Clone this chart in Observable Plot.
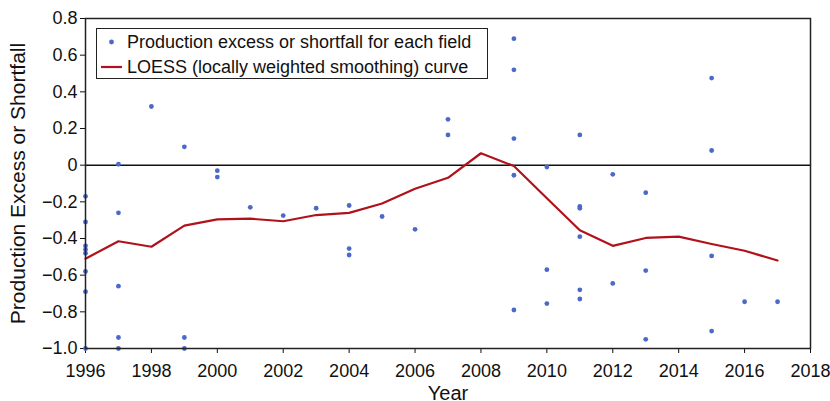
<!DOCTYPE html>
<html>
<head>
<meta charset="utf-8">
<script src="https://cdn.jsdelivr.net/npm/d3@7"></script>
<script src="https://cdn.jsdelivr.net/npm/@observablehq/plot@0.6"></script>
<style>
  html, body { margin: 0; padding: 0; background: #fff; }
  #chart { position: relative; width: 830px; height: 401px; overflow: hidden;
           font-family: "Liberation Sans", Arial, Helvetica, sans-serif; }
  #legend { position: absolute; left: 96px; top: 28px; width: 392px; height: 51px;
            border: 1.5px solid #222; background: #fff; box-sizing: border-box;
            font-size: 18px; color: #111; }
  #legend .row { position: absolute; left: 0; height: 24px; display: flex; align-items: center; white-space: nowrap; }
  #legend svg { display: block; }
</style>
</head>
<body>
<div id="chart"></div>
<script>
// Production excess or shortfall per field, by year
const fieldYears = [
  1996, 1996, 1996, 1996, 1996, 1996, 1996, 1996,
  1997, 1997, 1997, 1997, 1997,
  1998,
  1999, 1999, 1999,
  2000, 2000,
  2001,
  2002,
  2003,
  2004, 2004, 2004,
  2005,
  2006,
  2007, 2007,
  2009, 2009, 2009, 2009, 2009,
  2010, 2010, 2010,
  2011, 2011, 2011, 2011, 2011, 2011,
  2012, 2012,
  2013, 2013, 2013,
  2015, 2015, 2015, 2015,
  2016,
  2017
];
const fieldValues = [
  -0.17, -0.31, -0.44, -0.46, -0.48, -0.58, -0.69, -1.0,
  0.005, -0.26, -0.66, -0.94, -1.0,
  0.32,
  0.10, -0.94, -1.0,
  -0.03, -0.065,
  -0.23,
  -0.275,
  -0.235,
  -0.22, -0.455, -0.49,
  -0.28,
  -0.35,
  0.25, 0.165,
  0.69, 0.52, 0.145, -0.055, -0.79,
  -0.01, -0.57, -0.755,
  0.165, -0.225, -0.235, -0.39, -0.68, -0.73,
  -0.05, -0.645,
  -0.15, -0.575, -0.95,
  0.475, 0.08, -0.495, -0.905,
  -0.745,
  -0.745
];

// LOESS (locally weighted smoothing) curve
const loessYears = [1996, 1997, 1998, 1999, 2000, 2001, 2002, 2003, 2004, 2005, 2006,
                    2007, 2008, 2009, 2010, 2011, 2012, 2013, 2014, 2015, 2016, 2017];
const loessValues = [-0.51, -0.415, -0.445, -0.33, -0.296, -0.292, -0.306, -0.272, -0.26, -0.209, -0.129,
                     -0.069, 0.065, -0.005, -0.18, -0.355, -0.44, -0.397, -0.39, -0.43, -0.467, -0.52];

// Axis ticks
const xTicks = [1996, 1998, 2000, 2002, 2004, 2006, 2008, 2010, 2012, 2014, 2016, 2018];
const yTicks = [-1.0, -0.8, -0.6, -0.4, -0.2, 0, 0.2, 0.4, 0.6, 0.8];

const legendLabels = [
  "Production excess or shortfall for each field",
  "LOESS (locally weighted smoothing) curve"
];

const dotColor = "#4a69c9";
const lineColor = "#b0121b";

const fields = fieldYears.map((year, i) => ({year, value: fieldValues[i]}));
const loess = loessYears.map((year, i) => ({year, value: loessValues[i]}));

const fmtY = d => d === 0 ? "0" : d.toFixed(1).replace("-", "\u2212");

const chart = Plot.plot({
  width: 830,
  height: 401,
  marginLeft: 85,
  marginRight: 20,
  marginTop: 18,
  marginBottom: 53,
  style: {
    fontFamily: '"Liberation Sans", Arial, Helvetica, sans-serif',
    fontSize: "18px",
    color: "#111",
    background: "#fff"
  },
  x: {
    domain: [1996, 2018],
    ticks: xTicks,
    tickFormat: d => String(d),
    tickSize: 5,
    tickPadding: 11,
    label: "Year",
    labelArrow: "none",
    labelAnchor: "center",
    labelOffset: 51
  },
  y: {
    domain: [-1, 0.8],
    ticks: yTicks,
    tickFormat: fmtY,
    tickSize: 5,
    tickPadding: 3,
    label: "Production Excess or Shortfall",
    labelArrow: "none",
    labelAnchor: "center",
    labelOffset: 75
  },
  marks: [
    Plot.ruleY([0], {stroke: "#111", strokeWidth: 1.5}),
    Plot.line(loess, {x: "year", y: "value", stroke: lineColor, strokeWidth: 2.2}),
    Plot.dot(fields, {x: "year", y: "value", r: 2.4, fill: dotColor, stroke: "none"}),
    Plot.frame({stroke: "#222", strokeWidth: 1.5})
  ]
});

// Axis titles: larger than the tick labels, no direction arrows
const axisTitleSize = {"x-axis label": "20px", "y-axis label": "21px"};
Object.entries(axisTitleSize).forEach(([name, size]) => {
  const g = chart.querySelector(`[aria-label='${name}']`);
  if (!g) return;
  g.setAttribute("font-size", size);
  g.style.fontSize = size;
  g.querySelectorAll("text").forEach(t => {
    t.textContent = t.textContent.replace(/[\u2190-\u2193]/g, "").trim();
  });
});

const container = document.getElementById("chart");
container.appendChild(chart);

// Legend box in the upper-left corner of the frame
const legend = document.createElement("div");
legend.id = "legend";
const swatches = [
  `<svg width="30" height="20"><circle cx="14.5" cy="10" r="2.4" fill="${dotColor}"/></svg>`,
  `<svg width="30" height="20"><line x1="4" x2="25" y1="10" y2="10" stroke="${lineColor}" stroke-width="2.2"/></svg>`
];
legendLabels.forEach((label, i) => {
  const row = document.createElement("div");
  row.className = "row";
  row.style.top = (i === 0 ? 1 : 26) + "px";
  row.innerHTML = swatches[i] + `<span>${label}</span>`;
  legend.appendChild(row);
});
container.appendChild(legend);
</script>
</body>
</html>
